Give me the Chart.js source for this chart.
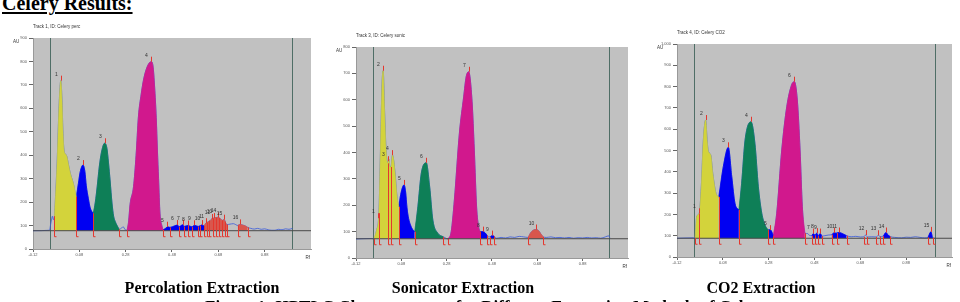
<!DOCTYPE html>
<html>
<head>
<meta charset="utf-8">
<script src="https://cdn.jsdelivr.net/npm/chart.js@4/dist/chart.umd.min.js"></script>
<style>
  body { margin: 0; width: 960px; height: 302px; overflow: hidden; background: #fff; position: relative; font-family: "Liberation Serif", "Times New Roman", serif; }
  canvas { position: absolute; }
  .head { position: absolute; left: 2px; top: -7px; font-size: 20px; line-height: 20px; font-weight: bold; text-decoration: underline; text-underline-offset: 2px; white-space: nowrap; }
  .cap { position: absolute; top: 280px; width: 300px; text-align: center; font-size: 16px; line-height: 16px; font-weight: bold; white-space: nowrap; }
  .fig { position: absolute; left: 205px; top: 298px; font-size: 17px; line-height: 17px; font-weight: bold; white-space: nowrap; }
</style>
</head>
<body>
<div class="head">Celery Results:</div>

<canvas id="perc" width="324" height="253" style="left:-1px;top:18px"></canvas>
<canvas id="soni" width="318" height="253" style="left:322px;top:27px"></canvas>
<canvas id="co2" width="321" height="255" style="left:643px;top:24px"></canvas>

<div class="cap" style="left:52px">Percolation Extraction</div>
<div class="cap" style="left:313px">Sonicator Extraction</div>
<div class="cap" style="left:611px">CO2 Extraction</div>
<div class="fig">Figure 1: HPTLC Chromatogram for Different Extraction Methods of Celery</div>

<script>
// shared Rf axis
const xTicks = [-0.12, 0.08, 0.28, 0.48, 0.68, 0.88];
const xTickLabels = ['-0.12', '0.08', '0.28', '0.48', '0.68', '0.88'];

// ---- Track 1: percolation ----
const percTitle = 'Track 1, ID: Celery perc';
const percMax = 900;
const percBase = 78;
const percStart = -0.045;
const percFront = 1.0;
const percRf = [-0.12, -0.049, -0.043, -0.036, -0.032, -0.0275, -0.021, -0.016, -0.007, 0.000, 0.005, 0.009, 0.014, 0.020, 0.026, 0.033, 0.041, 0.054, 0.067,
  0.076, 0.084, 0.096, 0.104, 0.110, 0.119, 0.127, 0.140,
  0.149, 0.157, 0.166, 0.175, 0.189, 0.199, 0.206, 0.213, 0.221, 0.228, 0.235, 0.243, 0.252,
  0.261, 0.269, 0.278, 0.286,
  0.293, 0.299, 0.314, 0.325, 0.335, 0.347, 0.357, 0.372, 0.390, 0.398, 0.405, 0.412, 0.417, 0.422, 0.428, 0.436, 0.441,
  0.455, 0.460, 0.471, 0.490, 0.503, 0.511, 0.526, 0.532, 0.549, 0.567, 0.576, 0.593, 0.603, 0.608, 0.618,
  0.626, 0.635, 0.645, 0.651, 0.662, 0.677, 0.688, 0.697, 0.705, 0.713, 0.717,
  0.730, 0.745, 0.755, 0.764, 0.770, 0.775, 0.785, 0.797, 0.807,
  0.820, 0.835, 0.850, 0.865, 0.880, 0.895, 0.910, 0.925, 0.940, 0.955, 0.970, 0.985, 1.000];
const percAu = [78, 80, 110, 140, 125, 140, 260, 367, 623, 718, 640, 509, 420, 405, 395, 360, 323, 280, 223,
  280, 330, 358, 330, 270, 215, 175, 152,
  200, 265, 350, 410, 451, 430, 367, 290, 196, 140, 117, 100, 84,
  88, 95, 82, 80,
  120, 190, 266, 400, 564, 660, 721, 775, 799, 780, 690, 560, 422, 300, 153, 100, 82,
  90, 95, 92, 98, 102, 95, 103, 96, 100, 94, 101, 96, 100, 102, 98,
  110, 115, 122, 128, 132, 135, 130, 122, 125, 108, 104,
  106, 108, 104, 100, 104, 105, 102, 98, 92,
  88, 85, 88, 84, 86, 82, 80, 80, 84, 82, 86, 84, 88];
const percSegFrom = [-0.0275, 0.067, 0.140, 0.286, 0.441, 0.618, 0.764];
const percSegTo = [0.067, 0.140, 0.252, 0.441, 0.618, 0.717, 0.807];
const percCuts = [-0.0275, 0.067, 0.140, 0.252, 0.286, 0.441, 0.471, 0.511, 0.532, 0.548, 0.567, 0.593, 0.603, 0.618,
  0.630, 0.641, 0.655, 0.668, 0.683, 0.697, 0.709, 0.717, 0.764, 0.807];
const percPeakNo = [1, 2, 3, 4, 5, 6, 7, 8, 9, 10, 11, 12, 13, 14, 15, 16];
const percPeakRf = [0.000, 0.096, 0.189, 0.390, 0.460, 0.503, 0.526, 0.549, 0.576, 0.608, 0.626, 0.651, 0.662, 0.677, 0.705, 0.775];

// ---- Track 3: sonicator ----
const soniTitle = 'Track 3, ID: Celery sonic';
const soniMax = 800;
const soniBase = 73;
const soniStart = -0.045;
const soniFront = 0.998;
const soniRf = [-0.12, -0.050, -0.041, -0.029, -0.019, -0.012, -0.005, 0.000, 0.006, 0.012, 0.019, 0.025, 0.029, 0.034, 0.041, 0.051, 0.061, 0.069,
  0.077, 0.092, 0.099, 0.105, 0.112, 0.120, 0.130, 0.139,
  0.153, 0.168, 0.190, 0.205, 0.219, 0.241, 0.266, 0.275, 0.285,
  0.300, 0.314, 0.336, 0.355, 0.366, 0.377, 0.392, 0.402, 0.412, 0.421, 0.428,
  0.441, 0.450, 0.459, 0.465, 0.472, 0.481, 0.490,
  0.500, 0.520, 0.540, 0.560, 0.580, 0.600, 0.620, 0.639, 0.650, 0.660, 0.672, 0.685, 0.695, 0.706,
  0.720, 0.740, 0.760, 0.780, 0.800, 0.820, 0.840, 0.860, 0.880, 0.900, 0.920, 0.940, 0.960, 0.980, 0.995, 1.000];
const soniAu = [72, 74, 72, 106, 170, 409, 663, 710, 561, 422, 359, 375, 346, 345, 390, 334, 232, 194,
  240, 277, 250, 190, 150, 126, 108, 100,
  195, 321, 361, 270, 144, 94, 80, 76, 72,
  100, 220, 472, 611, 687, 706, 594, 409, 194, 118, 100,
  100, 95, 85, 80, 80, 85, 82,
  75, 78, 76, 80, 78, 82, 80, 78, 95, 104, 108, 104, 92, 80,
  78, 80, 77, 78, 76, 78, 75, 77, 76, 78, 76, 77, 75, 80, 84, 76];
const soniSegFrom = [-0.041, 0.069, 0.139, 0.285, 0.428, 0.472, 0.639];
const soniSegTo = [0.069, 0.139, 0.266, 0.428, 0.459, 0.490, 0.706];
const soniCuts = [-0.041, -0.019, 0.019, 0.034, 0.069, 0.139, 0.266, 0.285, 0.428, 0.459, 0.472, 0.490, 0.639, 0.706];
const soniPeakNo = [1, 2, 3, 4, 5, 6, 7, 8, 9, 10];
const soniPeakRf = [-0.022, 0.000, 0.022, 0.041, 0.092, 0.190, 0.377, 0.441, 0.481, 0.672];

// ---- Track 4: CO2 ----
const co2Title = 'Track 4, ID: Celery CO2';
const co2Max = 1000;
const co2Base = 88;
const co2Start = -0.045;
const co2Front = 1.007;
const co2Rf = [-0.12, -0.050, -0.041, -0.034, -0.023, -0.014, -0.005, 0.005, 0.012, 0.017, 0.027, 0.036, 0.050, 0.062,
  0.082, 0.104, 0.119, 0.133, 0.150,
  0.162, 0.177, 0.203, 0.220, 0.235, 0.250, 0.264, 0.278,
  0.286, 0.292, 0.300,
  0.315, 0.337, 0.359, 0.380, 0.392, 0.405, 0.417, 0.427, 0.438,
  0.450, 0.460, 0.468, 0.475, 0.482, 0.490, 0.497, 0.505, 0.512,
  0.525, 0.540, 0.555, 0.565, 0.575, 0.585, 0.595, 0.605, 0.620,
  0.640, 0.660, 0.680, 0.695, 0.703, 0.711,
  0.730, 0.750, 0.758, 0.766, 0.780, 0.792, 0.800, 0.810,
  0.830, 0.860, 0.880, 0.900, 0.920, 0.940, 0.960, 0.975, 0.988, 0.995, 1.007];
const co2Au = [88, 90, 88, 190, 205, 330, 549, 643, 540, 494, 480, 393, 299, 282,
  424, 515, 377, 252, 221,
  346, 549, 635, 534, 330, 205, 150, 127,
  128, 122, 100,
  205, 502, 706, 808, 823, 737, 502, 236, 112,
  110, 100, 100, 110, 102, 112, 100, 110, 98,
  100, 103, 105, 113, 112, 115, 113, 108, 100,
  95, 97, 94, 95, 103, 94,
  95, 94, 102, 96, 98, 115, 104, 96,
  92, 90, 93, 92, 95, 92, 90, 92, 118, 90, 88];
const co2SegFrom = [-0.041, 0.062, 0.150, 0.278, 0.300, 0.468, 0.555, 0.780, 0.975];
const co2SegTo = [0.062, 0.150, 0.278, 0.300, 0.438, 0.512, 0.620, 0.810, 0.995];
const co2Cuts = [-0.041, -0.023, 0.062, 0.150, 0.278, 0.300, 0.438, 0.468, 0.482, 0.497, 0.512, 0.555, 0.577, 0.620,
  0.695, 0.711, 0.750, 0.766, 0.780, 0.810, 0.975, 0.995];
const co2PeakNo = [1, 2, 3, 4, 5, 6, 7, 8, 9, 10, 11, 12, 13, 14, 15];
const co2PeakRf = [-0.023, 0.005, 0.104, 0.203, 0.288, 0.392, 0.475, 0.490, 0.505, 0.565, 0.585, 0.703, 0.758, 0.792, 0.988];

// styles
const yellow = '#d3d33b', blue = '#0000f2', green = '#0e7f57', magenta = '#d1188d', red = '#d9564d';
const percFill = [yellow, blue, green, magenta, blue, red, red];
const soniFill = [yellow, blue, green, magenta, blue, blue, red];
const co2Fill = [yellow, blue, green, blue, magenta, blue, blue, blue, blue];
const plotGray = '#c1c1c1';
const laneLine = '#4f6e66';
const baseGray = '#4a4a4a';
const traceBlue = '#3658dc';
const markRed = '#e4372e';
const ink = '#333';

Chart.defaults.font.family = '"Liberation Sans", Arial, sans-serif';

function valueAt(rf, au, v) {
  for (let i = 1; i < rf.length; i++) {
    if (v <= rf[i]) {
      const t = (v - rf[i - 1]) / (rf[i] - rf[i - 1]);
      return au[i - 1] + t * (au[i] - au[i - 1]);
    }
  }
  return au[au.length - 1];
}

const hptlc = {
  id: 'hptlc',
  beforeDraw(chart) {
    const { ctx, chartArea: a } = chart;
    ctx.save();
    ctx.fillStyle = plotGray;
    ctx.fillRect(a.left, a.top, a.right - a.left, a.bottom - a.top);
    ctx.restore();
  },
  beforeDatasetsDraw(chart, args, o) {
    const { ctx, chartArea: a, scales: { x } } = chart;
    ctx.save();
    ctx.strokeStyle = laneLine;
    ctx.lineWidth = 1;
    [o.start, o.front].forEach(v => {
      const px = Math.round(x.getPixelForValue(v)) + 0.5;
      ctx.beginPath();
      ctx.moveTo(px, a.top);
      ctx.lineTo(px, a.bottom);
      ctx.stroke();
    });
    ctx.restore();
  },
  afterDatasetsDraw(chart, args, o) {
    const { ctx, scales: { x, y } } = chart;
    const yb = y.getPixelForValue(o.base);
    ctx.save();
    ctx.strokeStyle = markRed;
    ctx.lineWidth = 1;
    o.cuts.forEach(c => {
      const px = Math.round(x.getPixelForValue(c)) + 0.5;
      const py = y.getPixelForValue(valueAt(o.rf, o.au, c));
      ctx.beginPath();
      ctx.moveTo(px, py);
      ctx.lineTo(px, yb + 6);
      ctx.lineTo(px + 2, yb + 6);
      ctx.stroke();
    });
    ctx.font = '5px "Liberation Sans", Arial, sans-serif';
    ctx.textAlign = 'center';
    ctx.textBaseline = 'alphabetic';
    o.peakRf.forEach((p, i) => {
      const px = Math.round(x.getPixelForValue(p)) + 0.5;
      const py = y.getPixelForValue(valueAt(o.rf, o.au, p));
      ctx.strokeStyle = markRed;
      ctx.beginPath();
      ctx.moveTo(px, py);
      ctx.lineTo(px, py - 5);
      ctx.stroke();
      ctx.fillStyle = ink;
      ctx.fillText(String(o.peakNo[i]), px - 5, py - 5);
    });
    ctx.restore();
  },
  afterDraw(chart, args, o) {
    const { ctx, chartArea: a } = chart;
    ctx.save();
    ctx.fillStyle = ink;
    ctx.font = '4.5px "Liberation Sans", Arial, sans-serif';
    ctx.textBaseline = 'middle';
    ctx.textAlign = 'left';
    ctx.fillText(o.title, a.left, a.top - 11);
    ctx.fillText('AU', a.left - 20, a.top + 4);
    ctx.textAlign = 'right';
    ctx.fillText('Rf', a.right - 1, a.bottom + 9);
    ctx.restore();
  }
};

function drawTrack(id, title, rf, au, base, yMax, start, front, segFrom, segTo, fills, cuts, peakNo, peakRf) {
  const trace = rf.map((v, i) => ({ x: v, y: au[i] }));
  const line = { pointRadius: 0, cubicInterpolationMode: 'monotone' };
  const datasets = segFrom.map((a, k) => ({
    ...line,
    data: trace.filter(p => p.x >= a - 1e-9 && p.x <= segTo[k] + 1e-9),
    fill: { value: base },
    backgroundColor: fills[k],
    borderColor: fills[k],
    borderWidth: 0.7,
    order: 2
  }));
  datasets.push({ ...line, data: trace, borderColor: traceBlue, borderWidth: 0.8, fill: false, order: 3 });
  datasets.push({ pointRadius: 0, data: [{ x: -0.12, y: base }, { x: 1.08, y: base }], borderColor: baseGray, borderWidth: 1, fill: false, order: 1 });

  return new Chart(document.getElementById(id), {
    type: 'line',
    data: { datasets },
    plugins: [hptlc],
    options: {
      responsive: false,
      animation: false,
      events: [],
      layout: { padding: { top: 20, right: 12, bottom: 0, left: 0 } },
      plugins: {
        legend: { display: false },
        tooltip: { enabled: false },
        hptlc: { title, rf, au, base, start, front, cuts, peakNo, peakRf }
      },
      scales: {
        x: {
          type: 'linear',
          min: -0.12,
          max: 1.08,
          afterBuildTicks: s => { s.ticks = xTicks.map(v => ({ value: v })); },
          afterFit: s => { s.height = 22; },
          grid: { drawOnChartArea: false, tickLength: 3, color: '#666' },
          border: { color: '#999' },
          ticks: { font: { size: 4 }, color: '#555', padding: 0, maxRotation: 0, autoSkip: false,
            callback: (v, i) => xTickLabels[i] }
        },
        y: {
          min: 0,
          max: yMax,
          afterFit: s => { s.width = 34; },
          grid: { drawOnChartArea: false, tickLength: 4, color: '#666' },
          border: { color: '#999' },
          ticks: { stepSize: 100, font: { size: 4 }, color: '#555', padding: 2 }
        }
      }
    }
  });
}

drawTrack('perc', percTitle, percRf, percAu, percBase, percMax, percStart, percFront, percSegFrom, percSegTo, percFill, percCuts, percPeakNo, percPeakRf);
drawTrack('soni', soniTitle, soniRf, soniAu, soniBase, soniMax, soniStart, soniFront, soniSegFrom, soniSegTo, soniFill, soniCuts, soniPeakNo, soniPeakRf);
drawTrack('co2', co2Title, co2Rf, co2Au, co2Base, co2Max, co2Start, co2Front, co2SegFrom, co2SegTo, co2Fill, co2Cuts, co2PeakNo, co2PeakRf);
</script>
</body>
</html>
